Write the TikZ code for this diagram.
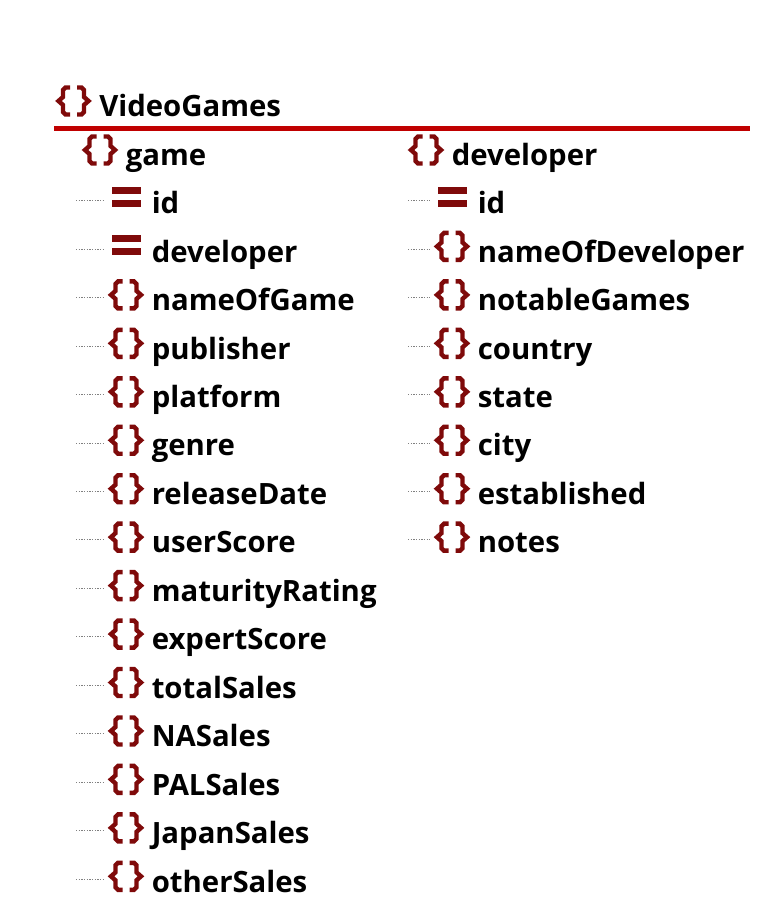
\documentclass[tikz,border=0pt]{standalone}
\usepackage{fontspec}
\setmainfont{Open Sans}
\definecolor{iconred}{HTML}{7F0A0A}
\definecolor{rulered}{HTML}{C00000}
\tikzset{
  itemlabel/.style={anchor=base west,inner sep=0pt,font=\fontsize{22}{24}\selectfont\bfseries},
  stubline/.style={draw=gray,line width=0.6pt,dash pattern=on 1pt off 1pt},
  braces/.pic={
    \draw[iconred,line width=3.3pt,line join=miter]
      (-3.5,-13.5)--(-8,-13.5)--(-10.5,-11)--(-10.5,-4)--(-15,0)--(-10.5,4)--(-10.5,11)--(-8,13.5)--(-3.5,13.5);
    \draw[iconred,line width=3.3pt,line join=miter]
      (3.5,-13.5)--(8,-13.5)--(10.5,-11)--(10.5,-4)--(15,0)--(10.5,4)--(10.5,11)--(8,13.5)--(3.5,13.5);
  },
  equalbars/.pic={
    \fill[iconred] (-14.5,-10) rectangle (14.5,-3);
    \fill[iconred] (-14.5,3) rectangle (14.5,10);
  }
}
\begin{document}
\begin{tikzpicture}[x=0.75pt,y=-0.75pt]
\useasboundingbox (0,0) rectangle (760,898);

% root and the red line
\pic at (73.5,101) {braces};
\node[itemlabel] (root) at (99,117) {VideoGames};
\coordinate (ruleL) at (54,128.5);
\coordinate (ruleR) at (750,128.5);
\draw[rulered,line width=3.75pt] (ruleL) -- (ruleR);

% the two parents
\pic at (100,150) {braces};
\node[itemlabel] (game) at (125.5,166) {game};
\pic at (426,150) {braces};
\node[itemlabel] (developer) at (451.5,166) {developer};

% children of game
\foreach \name [count=\i from 0] in {id,developer,nameOfGame,publisher,platform,genre,releaseDate,userScore,maturityRating,expertScore,totalSales,NASales,PALSales,JapanSales,otherSales} {
\pgfmathsetmacro{\rowy}{213.7+48.45*\i}
\node[itemlabel] (gamerow\i) at (151.5,\rowy) {\name};
\coordinate (gamestubA\i) at (76,\rowy-13);
\coordinate (gamestubB\i) at (104,\rowy-13);
\draw[stubline] (gamestubA\i) -- (gamestubB\i);
\ifnum\i<2
\pic at (126.5,\rowy-16.7) {equalbars};
\else
\pic at (126,\rowy-15.7) {braces};
\fi
}

% children of developer
\foreach \name [count=\i from 0] in {id,nameOfDeveloper,notableGames,country,state,city,established,notes} {
\pgfmathsetmacro{\rowy}{213.7+48.45*\i}
\node[itemlabel] (devrow\i) at (477.5,\rowy) {\name};
\coordinate (devstubA\i) at (408,\rowy-13);
\coordinate (devstubB\i) at (430,\rowy-13);
\draw[stubline] (devstubA\i) -- (devstubB\i);
\ifnum\i<1
\pic at (452.5,\rowy-16.7) {equalbars};
\else
\pic at (452,\rowy-15.7) {braces};
\fi
}
\end{tikzpicture}
\end{document}
